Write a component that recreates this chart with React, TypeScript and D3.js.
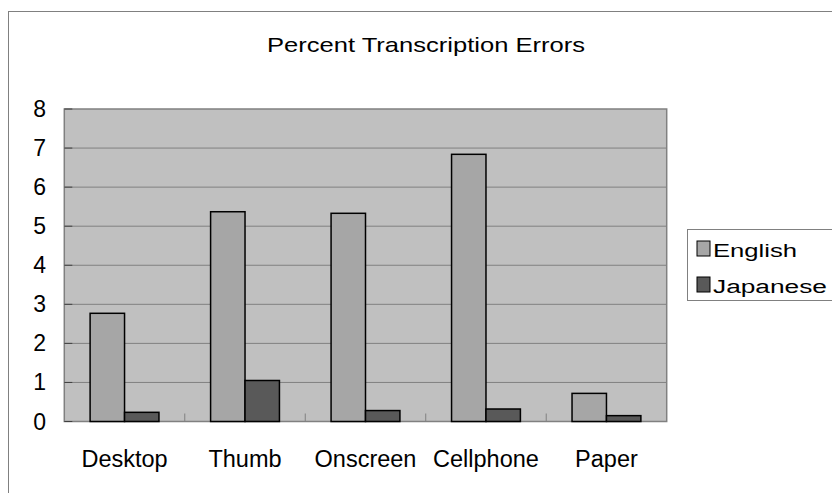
import React from "react";
import * as d3 from "d3";

const categories = ["Desktop", "Thumb", "Onscreen", "Cellphone", "Paper"];
const seriesNames = ["English", "Japanese"];
const english = [2.77, 5.37, 5.33, 6.84, 0.72];
const japanese = [0.235, 1.05, 0.28, 0.32, 0.15];
const yTicks = [0, 1, 2, 3, 4, 5, 6, 7, 8];
const title = "Percent Transcription Errors";

const colors = ["#a6a6a6", "#595959"];
const FONT = "'Liberation Sans', Arial, sans-serif";
const legendLen = [84, 114];

export default function App() {
  const W = 832, H = 493;
  const left = 64.3, right = 666.7, top = 109, bottom = 421.5;
  const x = d3.scaleBand<string>().domain(categories).range([left, right]).padding(0);
  const step = x.step();
  const groupW = (step * 2) / 3.5;
  const xs = d3.scaleBand<string>().domain(seriesNames).range([0, groupW]).padding(0);
  const y = d3.scaleLinear().domain([0, 8]).range([bottom, top]);
  const values = [english, japanese];

  return (
    <svg width={W} height={H} style={{ position: "absolute", left: 0, top: 0, background: "#fff" }}>
      <rect x={8.5} y={11.5} width={1000} height={1000} fill="#fff" stroke="#808080" strokeWidth={1} />
      <text x={426} y={51.5} textAnchor="middle" fontFamily={FONT} fontSize={21} textLength={318} lengthAdjust="spacingAndGlyphs" fill="#000">{title}</text>
      <rect x={left} y={top} width={right - left} height={bottom - top} fill="#c0c0c0" />
      {yTicks.filter(t => t > 0 && t < 8).map(t => (
        <line key={t} x1={left} x2={right} y1={y(t)} y2={y(t)} stroke="#808080" strokeWidth={1} />
      ))}
      <rect x={left} y={top} width={right - left} height={bottom - top} fill="none" stroke="#808080" strokeWidth={1.5} />
      {yTicks.map(t => (
        <g key={t}>
          <line x1={left} x2={left + 8} y1={y(t)} y2={y(t)} stroke="#404040" strokeWidth={1} />
          <text x={46} y={y(t) + 8} textAnchor="end" fontFamily={FONT} fontSize={23} fill="#000">{t}</text>
        </g>
      ))}
      {categories.slice(1).map(c => (
        <line key={c} x1={x(c)!} x2={x(c)!} y1={bottom} y2={bottom - 8} stroke="#808080" strokeWidth={1} />
      ))}
      {categories.map((c, i) => (
        <g key={c}>
          {seriesNames.map((s, j) => {
            const bx = x(c)! + (step - groupW) / 2 + xs(s)!;
            const v = values[j][i];
            return (
              <rect key={s} x={bx} y={y(v)} width={xs.bandwidth()} height={y(0) - y(v)}
                fill={colors[j]} stroke="#000" strokeWidth={1.5} />
            );
          })}
          <text x={x(c)! + step / 2} y={466.5} textAnchor="middle" fontFamily={FONT} fontSize={23.5} fill="#000">{c}</text>
        </g>
      ))}
      <rect x={687.5} y={229.5} width={200} height={71} fill="#fff" stroke="#808080" strokeWidth={1} />
      {seriesNames.map((s, j) => (
        <g key={s}>
          <rect x={697} y={241 + j * 36} width={13} height={15} fill={colors[j]} stroke="#000" strokeWidth={1} />
          <text x={713} y={256.5 + j * 36} fontFamily={FONT} fontSize={18} textLength={legendLen[j]} lengthAdjust="spacingAndGlyphs" fill="#000">{s}</text>
        </g>
      ))}
    </svg>
  );
}
